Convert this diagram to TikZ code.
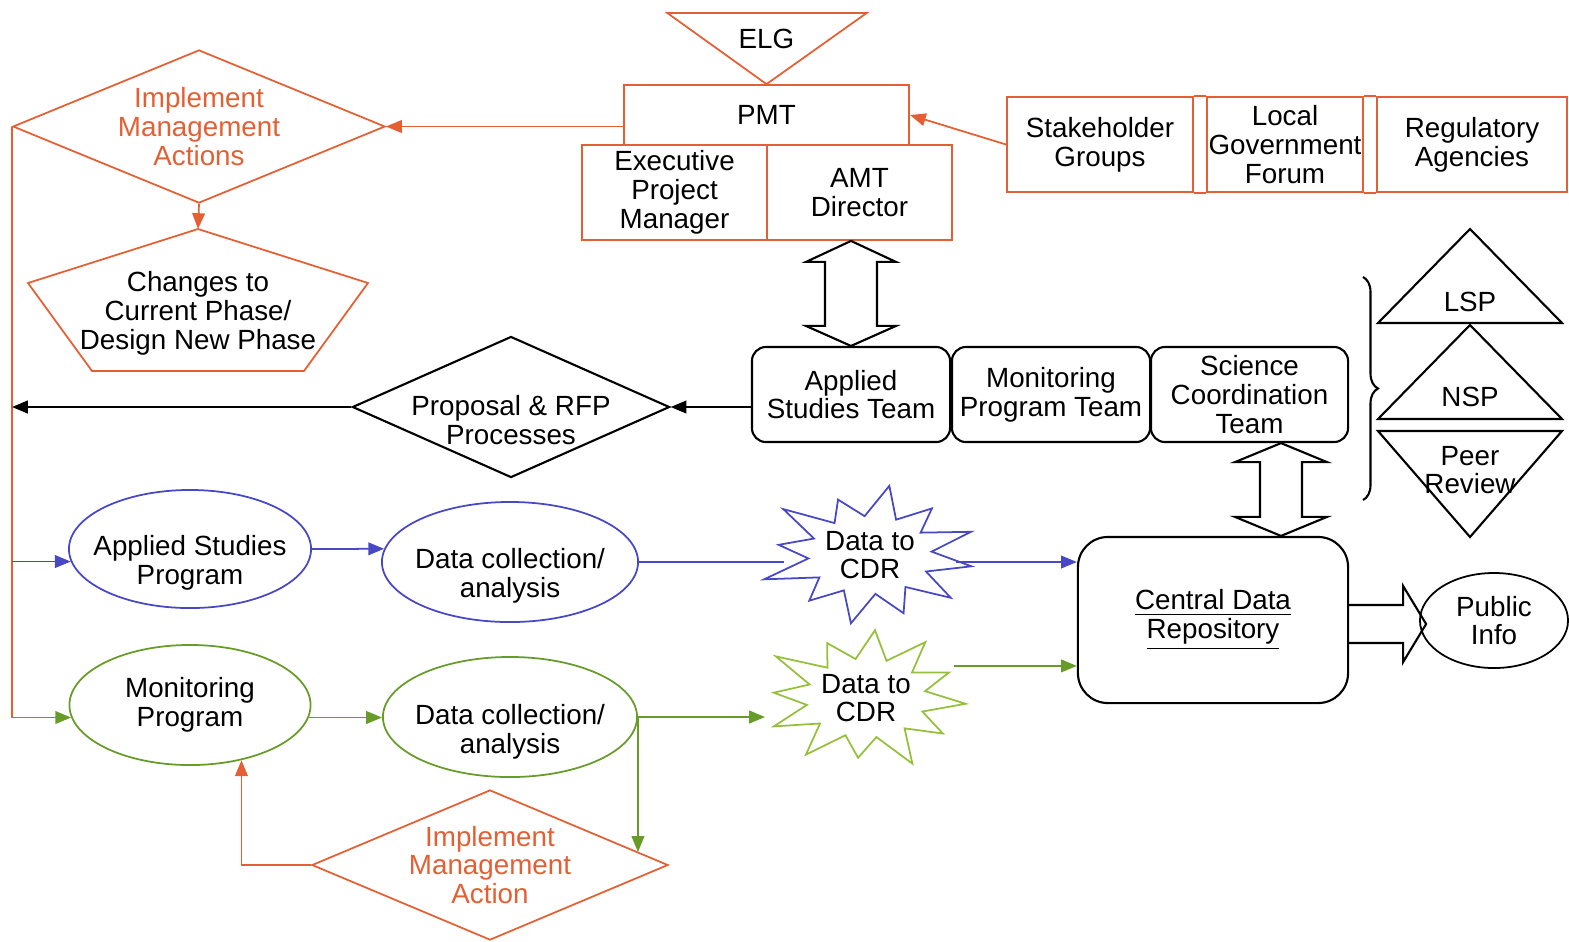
\documentclass[tikz,border=0pt]{standalone}
\usepackage{fontspec}
\setmainfont{Liberation Sans}
\usepackage{tikz}
\usetikzlibrary{shapes.geometric, arrows.meta, calc, decorations.pathreplacing}
\definecolor{orng}{RGB}{228,96,52}
\definecolor{blu}{RGB}{72,72,196}
\definecolor{grn}{RGB}{104,156,40}
\definecolor{grnl}{RGB}{150,192,60}

\begin{document}
\begin{tikzpicture}[x=0.01cm, y=-0.01cm, line width=0.5pt,
    font=\fontsize{7.9}{8.2}\selectfont,
    every node/.append style={align=center, inner sep=0pt},
    arr/.style={-{Triangle[length=4.5pt,width=3.6pt]}},
    orline/.style={draw=orng},
    blline/.style={draw=blu},
    grline/.style={draw=grn},
    kline/.style={draw=black, line width=0.6pt},
    obox/.style={draw=orng, rectangle, minimum height=0.95cm},
    team/.style={draw, line width=0.6pt, rounded corners=0.14cm, minimum width=1.98cm, minimum height=0.95cm},
    odmd/.style={draw=orng, diamond},
    kdmd/.style={draw, line width=0.6pt, diamond},
    bell/.style={draw=blu, ellipse},
    gell/.style={draw=grn, ellipse}]
            \useasboundingbox (0,0) rectangle (1569,941);

            % PMT block and ELG
            \node[obox, minimum width=2.85cm, minimum height=0.6cm] (pmt) at (766.5,115) {PMT};
            \node[obox, minimum width=1.85cm] (epm) at (674.5,192.5) {Executive\\Project\\Manager};
            \node[obox, minimum width=1.85cm] (amt) at (859.5,192.5) {AMT\\Director};
            \draw[orline] (pmt.north) ++(-99,-71) -- ++(199,0) -- (pmt.north) -- cycle;
            \node (elg) at ($(pmt.north)+(0,-45)$) {ELG};

            % Stakeholders
            \node[obox, minimum width=1.86cm] (stk) at (1100,144.5) {Stakeholder\\Groups};
            \node[obox, minimum width=1.56cm] (lgf) at (1285,144.5) {Local\\Government\\Forum};
            \node[obox, minimum width=1.9cm] (reg) at (1472,144.5) {Regulatory\\Agencies};
            \draw[orline] (stk.north east) -- (lgf.north west) (stk.south east) -- (lgf.south west)
                (lgf.north east) -- (reg.north west) (lgf.south east) -- (reg.south west);
            \draw[orline, arr] (stk.west) -- (pmt.east);

            % Management actions (top left)
            \node[odmd, minimum width=3.72cm, minimum height=1.53cm,
                label={[text=orng]center:{Implement\\Management\\Actions}}] (ima) at (199,126.5) {};
            \draw[orline, arr] (pmt.west |- ima.east) -- (ima.east);
            \draw[orline] (198,229) coordinate (chg-top) -- (368,283) -- (304,371) -- (92,371) -- (28,283) -- cycle;
            \node (chg) at (198,313) {Changes to\\Current Phase/\\Design New Phase};
            \draw[orline, arr] (ima.south) -- (chg-top);

            % Teams
            \node[team] (ast) at (851,394.5) {Applied\\Studies Team};
            \node[team] (mpt) at (1051,394.5) {Monitoring\\Program Team};
            \node[team, minimum width=1.97cm] (sct) at (1249.5,394.5) {Science\\Coordination\\Team};
            \draw[kline] (ast.north |- amt.south) -- ++(45,21) -- ++(-19,0) -- ($(ast.north)+(26,-20)$) -- ++(19,0)
                -- (ast.north) -- ++(-45,-20) -- ++(19,0) -- ($(ast.north |- amt.south)+(-26,21)$) -- ++(-19,0) -- cycle;

            % Proposal & RFP
            \node[kdmd, minimum width=3.17cm, minimum height=1.41cm,
                label={[yshift=-0.13cm]center:{Proposal \& RFP\\Processes}}] (prop) at (511,407) {};
            \draw[kline, arr] (ast.west |- prop.east) -- (prop.east);

            % Review panels
            \draw[kline] (1470,229) -- (1562,323) -- (1378,323) -- cycle;
            \draw[kline] (1470,325) -- (1562,419) -- (1378,419) -- cycle;
            \draw[kline] (1378,431) -- (1562,431) -- (1470,537) -- cycle;
            \node (lsp) at (1470,302) {LSP};
            \node (nsp) at (1470,397) {NSP};
            \node (peer) at (1470,470) {Peer\\Review};
            \draw[kline, decorate, decoration={brace, amplitude=0.15cm}] (1363,277) -- (1363,500);

            % Programs
            \node[bell, minimum width=2.42cm, minimum height=1.18cm,
                label={[yshift=-0.14cm]center:{Applied Studies\\Program}}] (asp) at (190,549) {};
            \node[bell, minimum width=2.56cm, minimum height=1.2cm,
                label={[yshift=-0.14cm]center:{Data collection/\\analysis}}] (dc1) at (510,562) {};
            \node[gell, minimum width=2.41cm, minimum height=1.2cm,
                label={center:{Monitoring\\Program}}] (mp) at (190,705) {};
            \node[gell, minimum width=2.54cm, minimum height=1.2cm,
                label={[yshift=-0.15cm]center:{Data collection/\\analysis}}] (dc2) at (510,717) {};
            \node[odmd, minimum width=3.56cm, minimum height=1.5cm,
                label={[text=orng]center:{Implement\\Management\\Action}}] (imb) at (490,865) {};

            % Data to CDR bursts
            \node[ellipse, minimum width=1.7cm, minimum height=1cm] (d1) at (870,555) {Data to\\CDR};
            \draw[blline] plot[samples at={0,...,23}]
                ({870+103*(1-0.4*mod(\x,2))*(1-0.1*mod(\x+1,2)*sin(97*\x))*cos(15*\x+10)},
                 {555+65*(1-0.4*mod(\x,2))*(1-0.1*mod(\x+1,2)*sin(97*\x))*sin(15*\x+10)}) -- cycle;
            \node[ellipse, minimum width=2cm, minimum height=1.3cm] (d2) at (866,698) {Data to\\CDR};
            \draw[draw=grnl] plot[samples at={0,...,23}]
                ({866+100*(1-0.4*mod(\x,2))*(1-0.1*mod(\x+1,2)*sin(71*\x))*cos(15*\x+5)},
                 {698+66*(1-0.4*mod(\x,2))*(1-0.1*mod(\x+1,2)*sin(71*\x))*sin(15*\x+5)}) -- cycle;

            % Central Data Repository
            \node[draw, line width=0.6pt, rounded corners=0.3cm, minimum width=2.7cm, minimum height=1.66cm]
                (cdr) at (1213,620) {\underline{Central Data}\\\underline{Repository}};
            \node[draw, ellipse, minimum width=1.48cm, minimum height=0.95cm] (pub) at (1494,620.5) {Public\\Info};
            \coordinate (pa) at ($(cdr.east)+(0,4)$);
            \draw[kline] ($(pa)+(0,-19)$) -- ++(54,0) -- ++(0,-19) -- ($(pa)+(77,0)$) -- ($(pa)+(54,38)$)
                -- ++(0,-19) -- ($(pa)+(0,19)$);
            \coordinate (sc-x) at (1281,0);
            \draw[kline] (sc-x |- sct.south) -- ++(46,19) -- ++(-25,0) -- ($(sc-x |- cdr.north)+(21,-19)$) -- ++(25,0)
                -- (sc-x |- cdr.north) -- ++(-46,-19) -- ++(25,0) -- ($(sc-x |- sct.south)+(-21,19)$) -- ++(-25,0) -- cycle;

            % Feedback spine
            \draw[orline] (ima.west) -- (ima.west |- mp.186);
            \draw[kline, arr] (prop.west) -- (prop.west -| ima.west);
            \draw[blline, arr] (ima.west |- asp.186) -- (asp.186);
            \draw[grline, arr] (ima.west |- mp.186) -- (mp.186);

            % Flows to the repository
            \draw[blline, arr] (asp.east) -- (dc1.174);
            \draw[blline] (dc1.east) -- (dc1.east -| d1.west);
            \draw[blline, arr] (d1.east |- dc1.east) -- (cdr.west |- dc1.east);
            \draw[grline, arr] (mp.-6) -- (mp.-6 -| dc2.west);
            \draw[grline, arr] (dc2.east) -- (dc2.east -| d2.west);
            \draw[grline, arr] (d2.20) -- (d2.20 -| cdr.west);
            \draw[grline, arr] (dc2.east) -- (dc2.east |- imb.5);
            \draw[orline, arr] (imb.west) -| (mp.-47);
        \end{tikzpicture}
\end{document}
